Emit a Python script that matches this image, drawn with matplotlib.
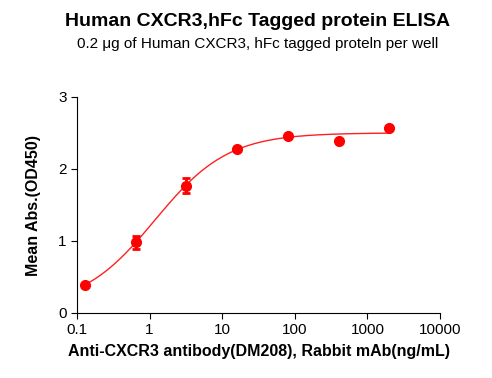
import numpy as np
import matplotlib
matplotlib.use("Agg")
import matplotlib.pyplot as plt

plt.rcParams['font.family'] = ['Liberation Sans', 'DejaVu Sans']

conc = [0.128, 0.64, 3.2, 16, 80, 400, 2000]
od = [0.39, 0.98, 1.77, 2.28, 2.46, 2.39, 2.57]
err = [0.0, 0.09, 0.11, 0.0, 0.0, 0.0, 0.0]


def fourpl(x, bottom, top, ec50, hill):
    return bottom + (top - bottom) / (1 + (ec50 / x) ** hill)


# crude 4PL fit: grid over ec50/hill, linear least squares for bottom/top
x = np.array(conc)
y = np.array(od)
best = None
for ec50 in np.logspace(-1, 2, 300):
    for hill in np.linspace(0.5, 2.5, 200):
        f = 1 / (1 + (ec50 / x) ** hill)
        A = np.vstack([1 - f, f]).T
        coef, *_ = np.linalg.lstsq(A, y, rcond=None)
        res = np.sum((A @ coef - y) ** 2)
        if best is None or res < best[0]:
            best = (res, coef[0], coef[1], ec50, hill)
_, bottom, top, ec50, hill = best

fig = plt.figure(figsize=(4.92, 3.78), dpi=100)
ax = fig.add_axes([77 / 492, 65 / 378, 363 / 492, 216 / 378])

xs = np.logspace(np.log10(conc[0]), np.log10(conc[-1]), 300)
ax.plot(xs, fourpl(xs, bottom, top, ec50, hill), color='#ff2020', lw=1)
ax.errorbar(conc, od, yerr=err, fmt='o', color='#ff0000', ms=7,
            capsize=3, elinewidth=2, capthick=2)

ax.set_xscale('log')
ax.set_xlim(0.1, 10000)
ax.set_ylim(0, 3)
ax.set_xticks([0.1, 1, 10, 100, 1000, 10000])
ax.set_xticklabels(['0.1', '1', '10', '100', '1000', '10000'])
ax.set_yticks([0, 1, 2, 3])
ax.minorticks_off()
ax.spines['top'].set_visible(False)
ax.spines['right'].set_visible(False)
ax.tick_params(labelsize=11, length=4)

ax.set_xlabel('Anti-CXCR3 antibody(DM208), Rabbit mAb(ng/mL)', fontsize=11.5,
              fontweight='bold', labelpad=5)
ax.set_ylabel('Mean Abs.(OD450)', fontsize=11.5, fontweight='bold', labelpad=12)

fig.text(258 / 492, 0.943, 'Human CXCR3,hFc Tagged protein ELISA', ha='center',
         va='center', fontsize=14, fontweight='bold')
fig.text(258 / 492, 0.883, '0.2 μg of Human CXCR3, hFc tagged proteln per well',
         ha='center', va='center', fontsize=11)

fig.savefig('out.png', dpi=100)
